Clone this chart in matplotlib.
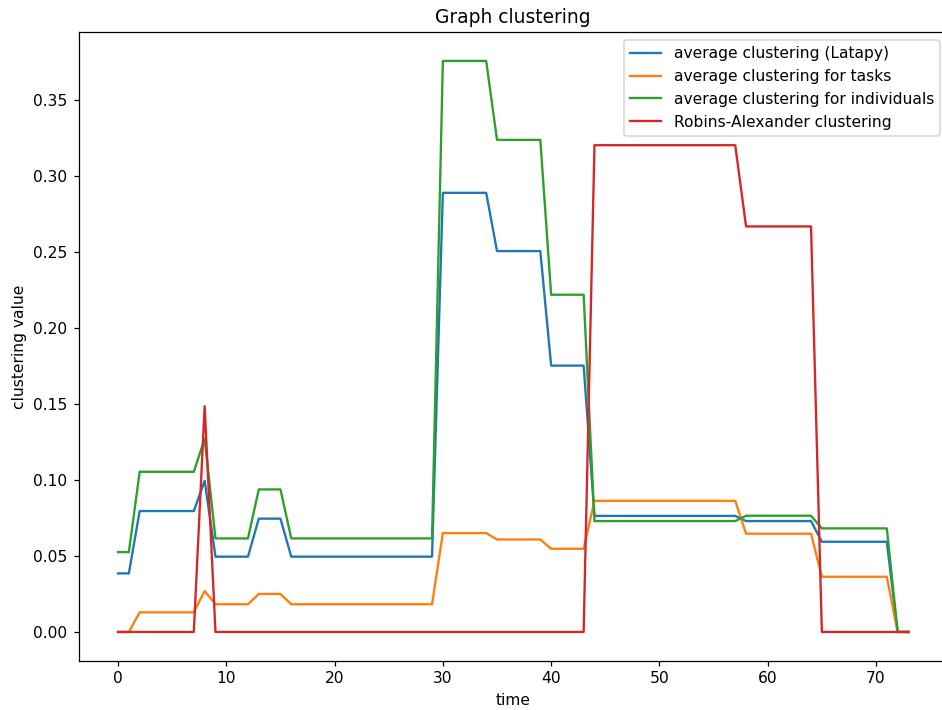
import matplotlib
matplotlib.use("Agg")
import matplotlib.pyplot as plt

# time steps
time = list(range(74))

# average clustering (Latapy)
latapy = ([0.0385] * 2 + [0.0795] * 6 + [0.0994] + [0.0495] * 4 + [0.0745] * 3
          + [0.0495] * 14 + [0.2887] * 5 + [0.2504] * 5 + [0.1751] * 4
          + [0.0763] * 14 + [0.0729] * 7 + [0.0593] * 7 + [0.0] * 2)

# average clustering for tasks
tasks = ([0.0] * 2 + [0.0129] * 6 + [0.0269] + [0.0182] * 4 + [0.0250] * 3
         + [0.0182] * 14 + [0.0650] * 5 + [0.0608] * 5 + [0.0547] * 4
         + [0.0862] * 14 + [0.0646] * 7 + [0.0363] * 7 + [0.0] * 2)

# average clustering for individuals
individuals = ([0.0525] * 2 + [0.1053] * 6 + [0.1270] + [0.0615] * 4 + [0.0937] * 3
               + [0.0615] * 14 + [0.3754] * 5 + [0.3235] * 5 + [0.2217] * 4
               + [0.0729] * 14 + [0.0764] * 7 + [0.0681] * 7 + [0.0] * 2)

# Robins-Alexander clustering
robins = ([0.0] * 8 + [0.1484] + [0.0] * 35
          + [0.3200] * 14 + [0.2666] * 7 + [0.0] * 9)

# the reference looks like a 112 dpi render, cropped on the right
DPI = 112
fig = plt.figure(figsize=(942 / DPI, 710 / DPI), dpi=DPI)
ax = fig.add_axes([78.5 / 942, 0.0697, (948 - 78.5) / 942, 0.9544 - 0.0697])

ax.plot(time, latapy, label="average clustering (Latapy)")
ax.plot(time, tasks, label="average clustering for tasks")
ax.plot(time, individuals, label="average clustering for individuals")
ax.plot(time, robins, label="Robins-Alexander clustering")

ax.set_title("Graph clustering")
ax.set_xlabel("time")
ax.set_ylabel("clustering value")
ax.legend(loc="upper right")

# right edge is cut off in the reference
ax.spines["right"].set_visible(False)

fig.savefig("out.png", dpi=DPI)
